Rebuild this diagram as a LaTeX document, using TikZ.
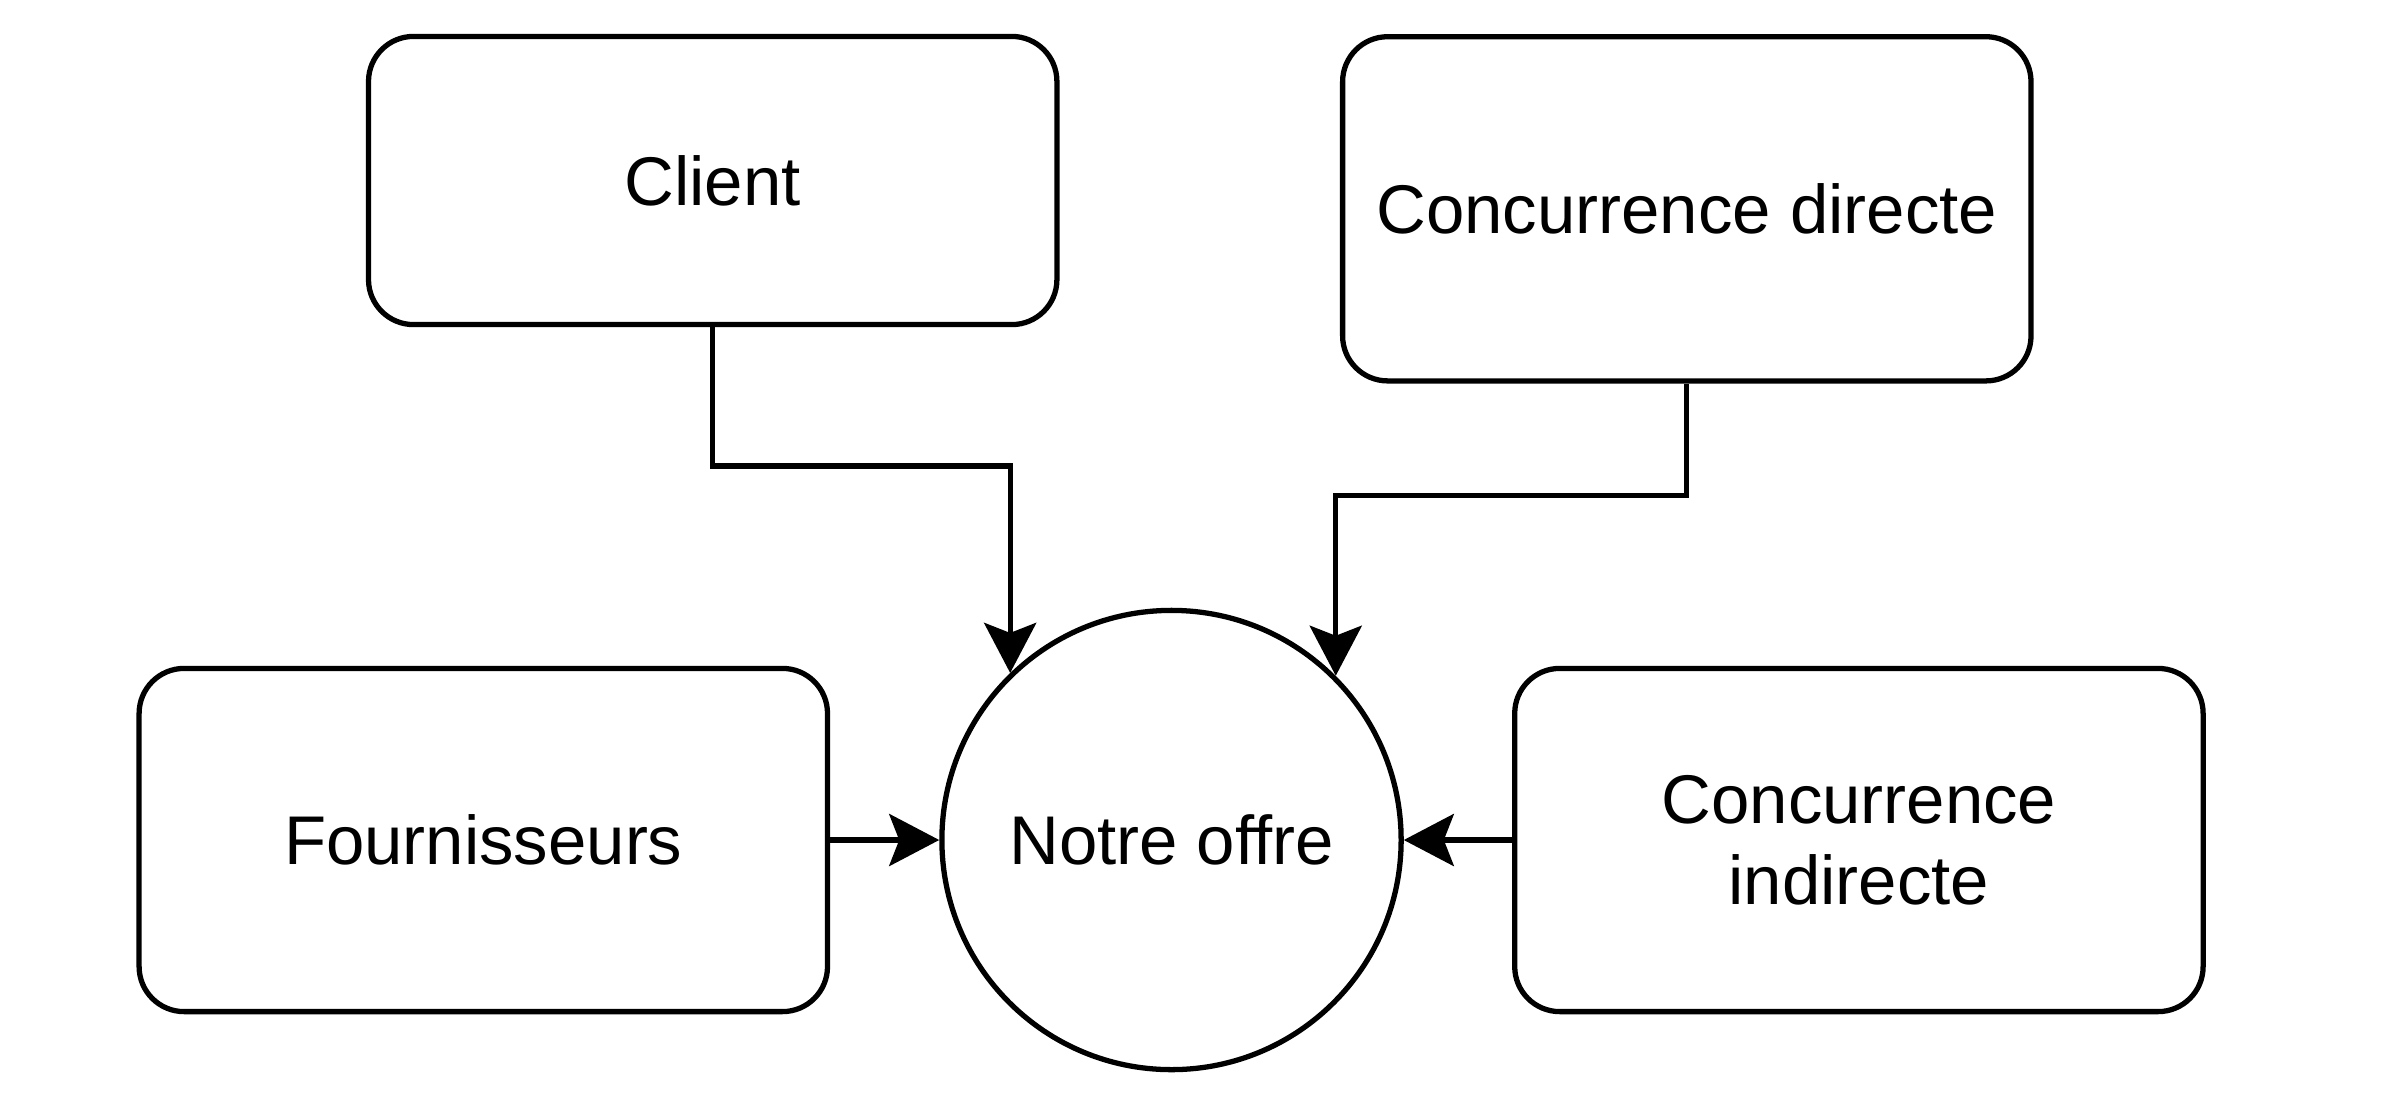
\documentclass[tikz,border=0pt]{standalone}
\usepackage{fontspec}
\setmainfont{Liberation Sans}
\usetikzlibrary{arrows.meta}

\begin{document}
\begin{tikzpicture}[x=0.01cm, y=-0.01cm, line width=1.5pt,
  box/.style={draw, rounded corners=0.45cm, minimum width=6.88cm, align=center,
    font=\fontsize{19.6}{23}\selectfont},
  hub/.style={draw, circle, minimum size=4.59cm, font=\fontsize{19.6}{23}\selectfont},
  link/.style={-{Stealth[length=0.5cm, width=0.52cm, inset=0.1cm]}}]
  \useasboundingbox (0,0) rectangle (2398,1100);

  \node[box, minimum height=2.88cm] (client) at (712.7,180.5) {Client};
  \node[box, minimum height=3.44cm] (directe) at (1686.8,208.8) {Concurrence directe};
  \node[box, minimum height=3.43cm] (fourn) at (483.3,840) {Fournisseurs};
  \node[box, minimum height=3.43cm] (indirecte) at (1858.9,840) {Concurrence\\indirecte};
  \node[hub] (offre) at (1171.5,840) {Notre offre};

  \coordinate (kc) at (712.7,466); % coude client
  \coordinate (kd) at (1686.8,495.5); % coude concurrence directe

  \draw[link] (client.south) -- (kc) -| (offre.134.5);
  \draw[link] (directe.south) -- (kd) -| (offre.45.5);
  \draw[link] (fourn.east) -- (offre.west);
  \draw[link] (indirecte.west) -- (offre.east);
\end{tikzpicture}
\end{document}
